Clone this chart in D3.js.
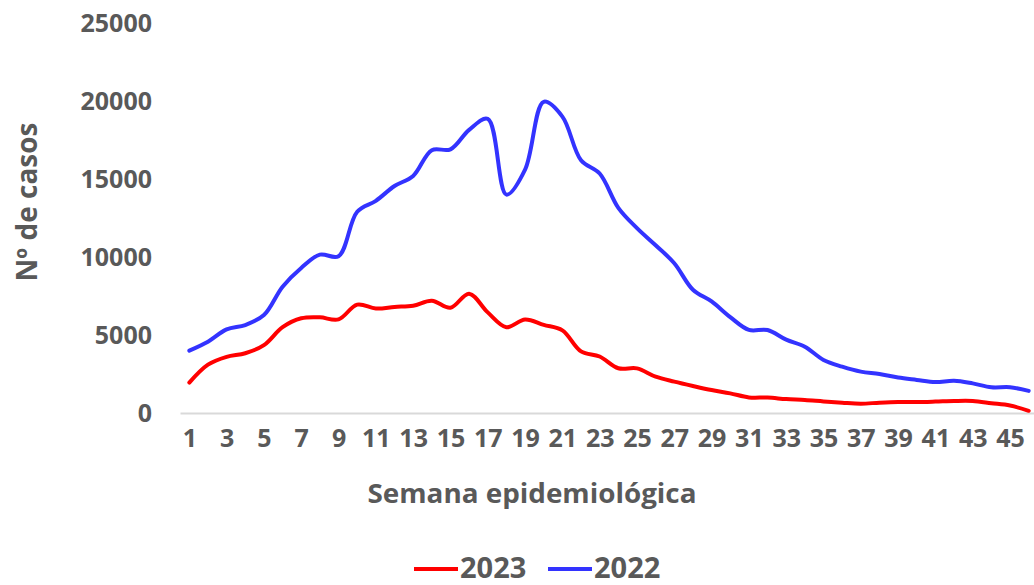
<!DOCTYPE html>
<html>
<head>
<meta charset="utf-8">
<script src="https://cdn.jsdelivr.net/npm/d3@7"></script>
<style>
  body { margin: 0; background: #fff; }
  text { font-family: "Open Sans", Lato, sans-serif; font-weight: bold; fill: #595959; }
</style>
</head>
<body>
<div id="chart"></div>
<script>
// semanas epidemiologicas 1..46
var weeks = d3.range(1, 47);
var tickWeeks = d3.range(1, 46, 2);
var yTicks = [0, 5000, 10000, 15000, 20000, 25000];

var cases2023 = [1950, 3100, 3600, 3830, 4350, 5500, 6070, 6130, 6000, 6950,
                 6700, 6800, 6880, 7200, 6750, 7650, 6450, 5500, 6000, 5650,
                 5300, 3950, 3620, 2870, 2860, 2330, 2010, 1730, 1470, 1260,
                 1000, 990, 890, 830, 740, 660, 600, 660, 700, 700,
                 730, 770, 770, 630, 480, 140];

var cases2022 = [4000, 4570, 5360, 5640, 6280, 8100, 9300, 10150, 10050, 12900,
                 13600, 14550, 15200, 16850, 16900, 18150, 18850, 14000, 15600, 19950,
                 19000, 16200, 15350, 13150, 11850, 10750, 9600, 7900, 7150, 6150,
                 5330, 5320, 4700, 4250, 3400, 2970, 2650, 2500, 2270, 2120,
                 1980, 2070, 1900, 1650, 1650, 1420];

var series = [
  { name: "2023", values: cases2023, color: "#ff0000" },
  { name: "2022", values: cases2022, color: "#3333ff" }
];

var chart_width  = 1034;
var chart_height = 585;

var svg = d3.select('#chart')
    .append('svg')
    .attr('width', chart_width)
    .attr('height', chart_height);

// scales
var x_scale = d3.scalePoint()
    .domain(weeks)
    .range([180, 1038])
    .padding(0.5);

var y_scale = d3.scaleLinear()
    .domain([0, 25000])
    .range([413, 23]);

// axes
var yAxis = d3.axisLeft(y_scale)
    .tickValues(yTicks)
    .tickSize(0)
    .tickPadding(28)
    .tickFormat(d3.format("d"));

var xAxis = d3.axisBottom(x_scale)
    .tickValues(tickWeeks)
    .tickSize(0)
    .tickPadding(16);

var gy = svg.append('g')
    .attr('class', 'y-axis')
    .attr('transform', 'translate(180,0)')
    .call(yAxis);
gy.select('.domain').remove();
gy.selectAll('text').style('font-size', '25px');

var gx = svg.append('g')
    .attr('class', 'x-axis')
    .attr('transform', 'translate(0,413)')
    .call(xAxis);
gx.select('.domain').attr('stroke', '#d9d9d9').attr('stroke-width', 2);
gx.selectAll('text').style('font-size', '25px');

// lines
var line = d3.line()
    .x(function(d, i){ return x_scale(weeks[i]); })
    .y(function(d){ return y_scale(d); })
    .curve(d3.curveCatmullRom);

svg.selectAll('path.serie')
  .data(series)
  .enter()
  .append('path')
  .attr('class', 'serie')
  .attr('d', function(d){ return line(d.values); })
  .attr('fill', 'none')
  .attr('stroke', function(d){ return d.color; })
  .attr('stroke-width', 4)
  .attr('stroke-linejoin', 'round')
  .attr('stroke-linecap', 'round');

// axis titles
svg.append('text')
  .attr('transform', 'translate(37,202) rotate(-90)')
  .attr('text-anchor', 'middle')
  .style('font-size', '28px')
  .text('Nº de casos');

svg.append('text')
  .attr('x', 532)
  .attr('y', 503)
  .attr('text-anchor', 'middle')
  .attr('textLength', 329)
  .attr('lengthAdjust', 'spacingAndGlyphs')
  .style('font-size', '26px')
  .text('Semana epidemiológica');

// legend
var legend = svg.append('g').attr('class', 'legend');
var lx = [414, 548];
series.forEach(function(s, i){
  legend.append('line')
    .attr('x1', lx[i]).attr('x2', lx[i] + 44)
    .attr('y1', 569).attr('y2', 569)
    .attr('stroke', s.color)
    .attr('stroke-width', 4);
  legend.append('text')
    .attr('x', lx[i] + 46)
    .attr('y', 578)
    .style('font-size', '29px')
    .text(s.name);
});
</script>
</body>
</html>
